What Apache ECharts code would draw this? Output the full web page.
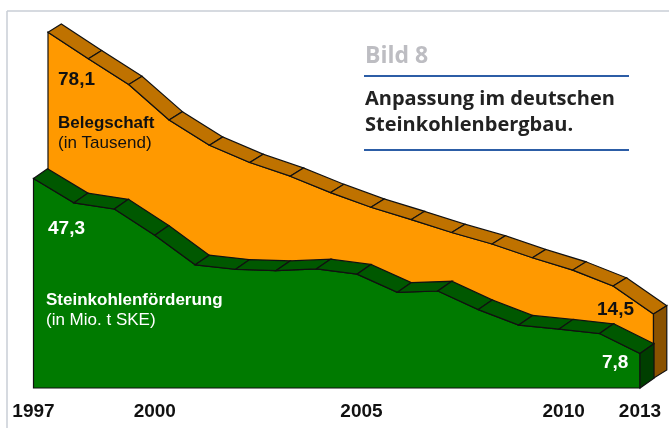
<!DOCTYPE html>
<html>
<head>
    <meta charset="UTF-8">
    <title>Bild 8 - Anpassung im deutschen Steinkohlenbergbau</title>
    <script src="https://cdn.jsdelivr.net/npm/echarts@6.0.0/dist/echarts.min.js"></script>
    <style>
        html, body { margin: 0; padding: 0; background: #fff; }
        #chart { width: 669px; height: 428px; }
    </style>
</head>
<body>
    <div id="chart"></div>

    <script>
        // Daten
        const years = ['1997', '1998', '1999', '2000', '2001', '2002', '2003', '2004',
                       '2005', '2006', '2007', '2008', '2009', '2010', '2012', '2013'];
        const shownYears = ['1997', '2000', '2005', '2010', '2013'];
        // Belegschaft (in Tausend)
        const belegschaft = [78.1, 72.1, 66.3, 58.3, 52.6, 48.7, 45.6, 41.9,
                             38.6, 35.8, 32.9, 30.3, 27.2, 24.4, 20.8, 14.5];
        // Steinkohlenförderung (in Mio. t SKE)
        const foerderung = [47.3, 41.8, 40.4, 34.5, 27.8, 26.8, 26.5, 26.9,
                            25.7, 21.6, 21.9, 17.7, 14.2, 13.3, 12.3, 7.8];

        const fmt = v => v.toFixed(1).replace('.', ',');
        const EDGE = '#111';

        // 3D-Flaeche: Vorderseite, Oberkante (Band) und Seitenflaeche
        function slab(values, colors, depth) {
            return function (params, api) {
                const i = params.dataIndex;
                const n = values.length;
                const shift = p => [p[0] + depth[0], p[1] + depth[1]];
                const top = values.map((v, k) => api.coord([k, v]));
                const base = values.map((v, k) => api.coord([k, 0]));
                const children = [];
                if (i === 0) {
                    children.push({
                        type: 'polygon',
                        shape: { points: top.concat([base[n - 1], base[0]]) },
                        style: { fill: colors.front, stroke: EDGE, lineWidth: 1.2, lineJoin: 'miter' }
                    });
                }
                if (i < n - 1) {
                    children.push({
                        type: 'polygon',
                        shape: { points: [top[i], top[i + 1], shift(top[i + 1]), shift(top[i])] },
                        style: { fill: colors.top, stroke: EDGE, lineWidth: 1.2, lineJoin: 'miter' }
                    });
                } else {
                    children.push({
                        type: 'polygon',
                        shape: { points: [top[i], shift(top[i]), shift(base[i]), base[i]] },
                        style: { fill: colors.side, stroke: EDGE, lineWidth: 1.2, lineJoin: 'miter' }
                    });
                }
                return { type: 'group', children: children };
            };
        }

        const chart = echarts.init(document.getElementById('chart'));

        const textFont = 'Liberation Sans, Arial, sans-serif';
        const titleFont = 'Open Sans, sans-serif';

        function label(text, x, y, size, weight, color, family) {
            return {
                type: 'text', left: x, top: y - size / 2 - 1, silent: true, z: 100,
                style: {
                    text: text, fill: color, font: weight + ' ' + size + 'px ' + (family || textFont)
                }
            };
        }

        const option = {
            animation: false,
            grid: [
                // Vorderseite Foerderung
                { left: 33.5, right: 29, top: 33.6, bottom: 40 },
                // Vorderseite Belegschaft (eine Ebene weiter hinten)
                { left: 48, right: 15.5, top: 23.8, bottom: 49.8 }
            ],
            xAxis: [{
                type: 'category', gridIndex: 0, data: years, boundaryGap: false,
                axisLine: { show: false }, axisTick: { show: false }, splitLine: { show: false },
                axisLabel: {
                    interval: (idx, val) => shownYears.includes(val),
                    margin: 14,
                    fontFamily: textFont, fontSize: 19, fontWeight: 'bold', color: '#111',
                    formatter: v => (v === '2005' || v === '2010') ? '{s|' + v + '}' : v,
                    rich: { s: { fontFamily: textFont, fontSize: 19, fontWeight: 'bold', color: '#111', padding: [0, 0, 0, 9] } }
                }
            }, {
                type: 'category', gridIndex: 1, data: years, boundaryGap: false, show: false
            }],
            yAxis: [
                { type: 'value', gridIndex: 0, min: 0, max: 80, show: false },
                { type: 'value', gridIndex: 1, min: 0, max: 80, show: false }
            ],
            series: [{
                name: 'Belegschaft',
                type: 'custom',
                xAxisIndex: 1, yAxisIndex: 1,
                clip: false,
                data: belegschaft.map((v, i) => [i, v]),
                renderItem: slab(belegschaft, { front: '#FF9900', top: '#BF7200', side: '#8A5200' }, [13.3, -8.3])
            }, {
                name: 'Steinkohlenförderung',
                type: 'custom',
                xAxisIndex: 0, yAxisIndex: 0,
                clip: false,
                data: foerderung.map((v, i) => [i, v]),
                renderItem: slab(foerderung, { front: '#007A00', top: '#005800', side: '#003F00' }, [14, -9.7])
            }],
            graphic: [
                // Rahmen
                { type: 'line', shape: { x1: 7, y1: 11, x2: 669, y2: 11 }, style: { stroke: '#C9CED6', lineWidth: 1.5 }, silent: true },
                { type: 'line', shape: { x1: 7, y1: 11, x2: 7, y2: 428 }, style: { stroke: '#C9CED6', lineWidth: 1.5 }, silent: true },
                // Titelblock
                { type: 'line', shape: { x1: 364, y1: 76, x2: 629, y2: 76 }, style: { stroke: '#2C5DA6', lineWidth: 2 }, silent: true },
                { type: 'line', shape: { x1: 364, y1: 150, x2: 629, y2: 150 }, style: { stroke: '#2C5DA6', lineWidth: 2 }, silent: true },
                label('Bild 8', 365, 57, 23, 'bold', '#BDBDC2', titleFont),
                label('Anpassung im deutschen', 365, 100, 20, 'bold', '#222', titleFont),
                label('Steinkohlenbergbau.', 365, 126, 20, 'bold', '#222', titleFont),
                // Beschriftungen Belegschaft
                label(fmt(belegschaft[0]), 58, 81, 19, 'bold', '#111'),
                label('Belegschaft', 58, 124, 17, 'bold', '#111'),
                label('(in Tausend)', 58, 144, 17, 'normal', '#111'),
                label(fmt(belegschaft[belegschaft.length - 1]), 597, 311, 19, 'bold', '#111'),
                // Beschriftungen Foerderung
                label(fmt(foerderung[0]), 48, 230, 19, 'bold', '#fff'),
                label('Steinkohlenförderung', 46, 301, 17, 'bold', '#fff'),
                label('(in Mio. t SKE)', 46, 321, 17, 'normal', '#fff'),
                label(fmt(foerderung[foerderung.length - 1]), 602, 364, 19, 'bold', '#fff')
            ]
        };

        chart.setOption(option);
    </script>
</body>
</html>
